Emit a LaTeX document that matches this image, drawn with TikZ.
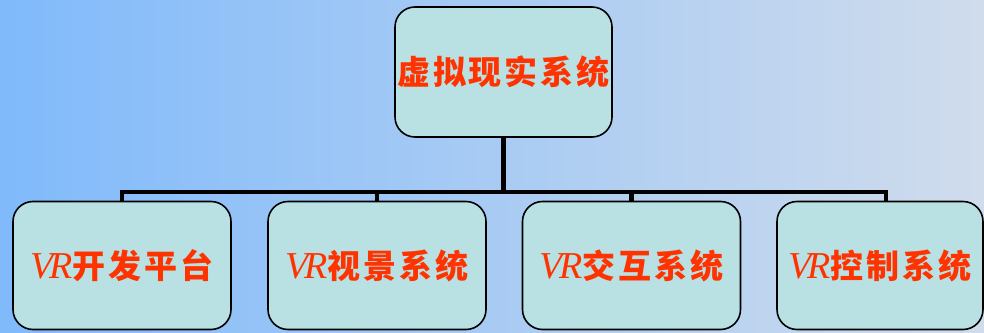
\documentclass[tikz,border=0pt]{standalone}
\usepackage{fontspec}
\newfontfamily\cjk{Noto Sans CJK SC}[BoldFont={Noto Sans CJK SC Black}, LetterSpace=9]
\newfontfamily\vrfont{Liberation Serif}
\definecolor{bgl}{HTML}{80BAFB}
\definecolor{bgr}{HTML}{D0DCEC}
\definecolor{boxfill}{HTML}{B9E0E3}
\definecolor{txt}{HTML}{FF3300}
\tikzset{
  orgbox/.style={draw=black, line width=1.6pt, fill=boxfill, rounded corners=20pt,
    minimum height=128pt, inner sep=0pt, font=\cjk\bfseries\fontsize{33}{33}\selectfont, text=txt},
  link/.style={draw=black, line width=4.5pt}
}
\newcommand{\vr}{{\vrfont\mdseries\itshape\fontsize{38}{38}\selectfont V\kern-4pt R}}
\begin{document}
\begin{tikzpicture}[x=1pt,y=1pt]
\useasboundingbox (0,0) rectangle (984,332);
\shade[left color=bgl, right color=bgr] (0,0) rectangle (984,332);
\node[orgbox, minimum width=217pt, minimum height=130pt] (root) at (503.5,260) {虚拟现实系统};
\node[orgbox, minimum width=218pt] (a) at (122,66.5) {\vr 开发平台};
\node[orgbox, minimum width=218pt] (b) at (377,66.5) {\vr 视景系统};
\node[orgbox, minimum width=218pt] (c) at (631.5,66.5) {\vr 交互系统};
\node[orgbox, minimum width=206pt] (d) at (880,66.5) {\vr 控制系统};
\coordinate (bus) at (503.5,140);
\coordinate (ta) at (122,140);
\coordinate (tb) at (377,140);
\coordinate (tc) at (631.5,140);
\coordinate (td) at (886,140);
\draw[link] (root.south) -- (bus);
\draw[link, line cap=rect] (ta) -- (td);
\draw[link] (ta) -- (ta |- a.north);
\draw[link] (tb) -- (tb |- b.north);
\draw[link] (tc) -- (tc |- c.north);
\draw[link] (td) -- (td |- d.north);
\end{tikzpicture}
\end{document}
